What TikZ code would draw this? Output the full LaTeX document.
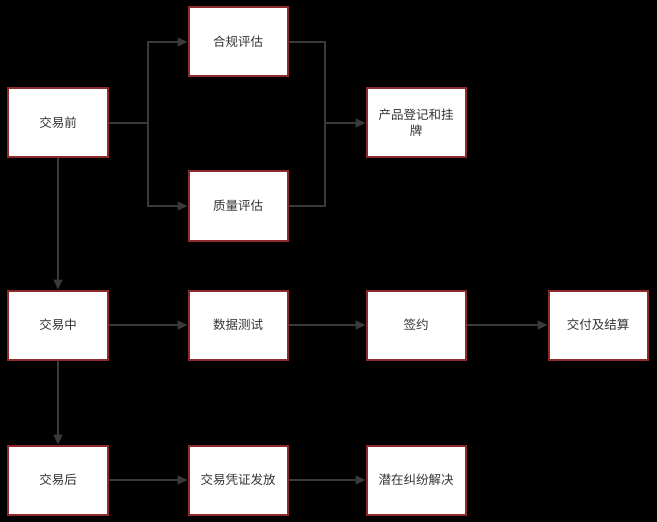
\documentclass[tikz,border=0pt]{standalone}
\usepackage{fontspec}
\newfontfamily\cjk{Noto Sans CJK SC}
\usetikzlibrary{arrows.meta}
\definecolor{boxborder}{HTML}{8E2A2A}
\definecolor{linecol}{HTML}{3A3A3A}
\definecolor{txtcol}{HTML}{333333}
\tikzset{
  x=1bp,y=-1bp,
  stepbox/.style={draw=boxborder,line width=2bp,fill=white,minimum width=99bp,minimum height=69bp,
    inner sep=0pt,align=center,text=txtcol,font=\cjk\fontsize{12.5bp}{16bp}\selectfont},
  conn/.style={draw=linecol,line width=1.6bp},
  arr/.style={conn,-{Triangle[length=10bp,width=9bp]}},
}
\begin{document}
\begin{tikzpicture}
\fill[black] (0,0) rectangle (657,522);
\useasboundingbox (0,0) rectangle (657,522);
\node[stepbox] (pre) at (58,123) {交易前};
\node[stepbox] (comp) at (238,42) {合规评估};
\node[stepbox] (qual) at (238,206) {质量评估};
\node[stepbox] (reg) at (416,123) {产品登记和挂\\牌};
\node[stepbox] (mid) at (58,325) {交易中};
\node[stepbox] (test) at (238,325) {数据测试};
\node[stepbox] (sign) at (416,325) {签约};
\node[stepbox] (pay) at (598,325) {交付及结算};
\node[stepbox] (post) at (58,480) {交易后};
\node[stepbox] (cert) at (238,480) {交易凭证发放};
\node[stepbox] (disp) at (416,480) {潜在纠纷解决};
\coordinate (split) at (148,123);
\coordinate (merge) at (325,123);
\draw[arr] (pre.east) -- (split) |- (comp.west);
\draw[arr] (split) |- (qual.west);
\draw[conn] (comp.east) -| (merge);
\draw[conn] (qual.east) -| (merge);
\draw[arr] (merge) -- (reg.west);
\draw[arr] (pre.south) -- (mid.north);
\draw[arr] (mid.south) -- (post.north);
\draw[arr] (mid.east) -- (test.west);
\draw[arr] (test.east) -- (sign.west);
\draw[arr] (sign.east) -- (pay.west);
\draw[arr] (post.east) -- (cert.west);
\draw[arr] (cert.east) -- (disp.west);
\end{tikzpicture}
\end{document}
